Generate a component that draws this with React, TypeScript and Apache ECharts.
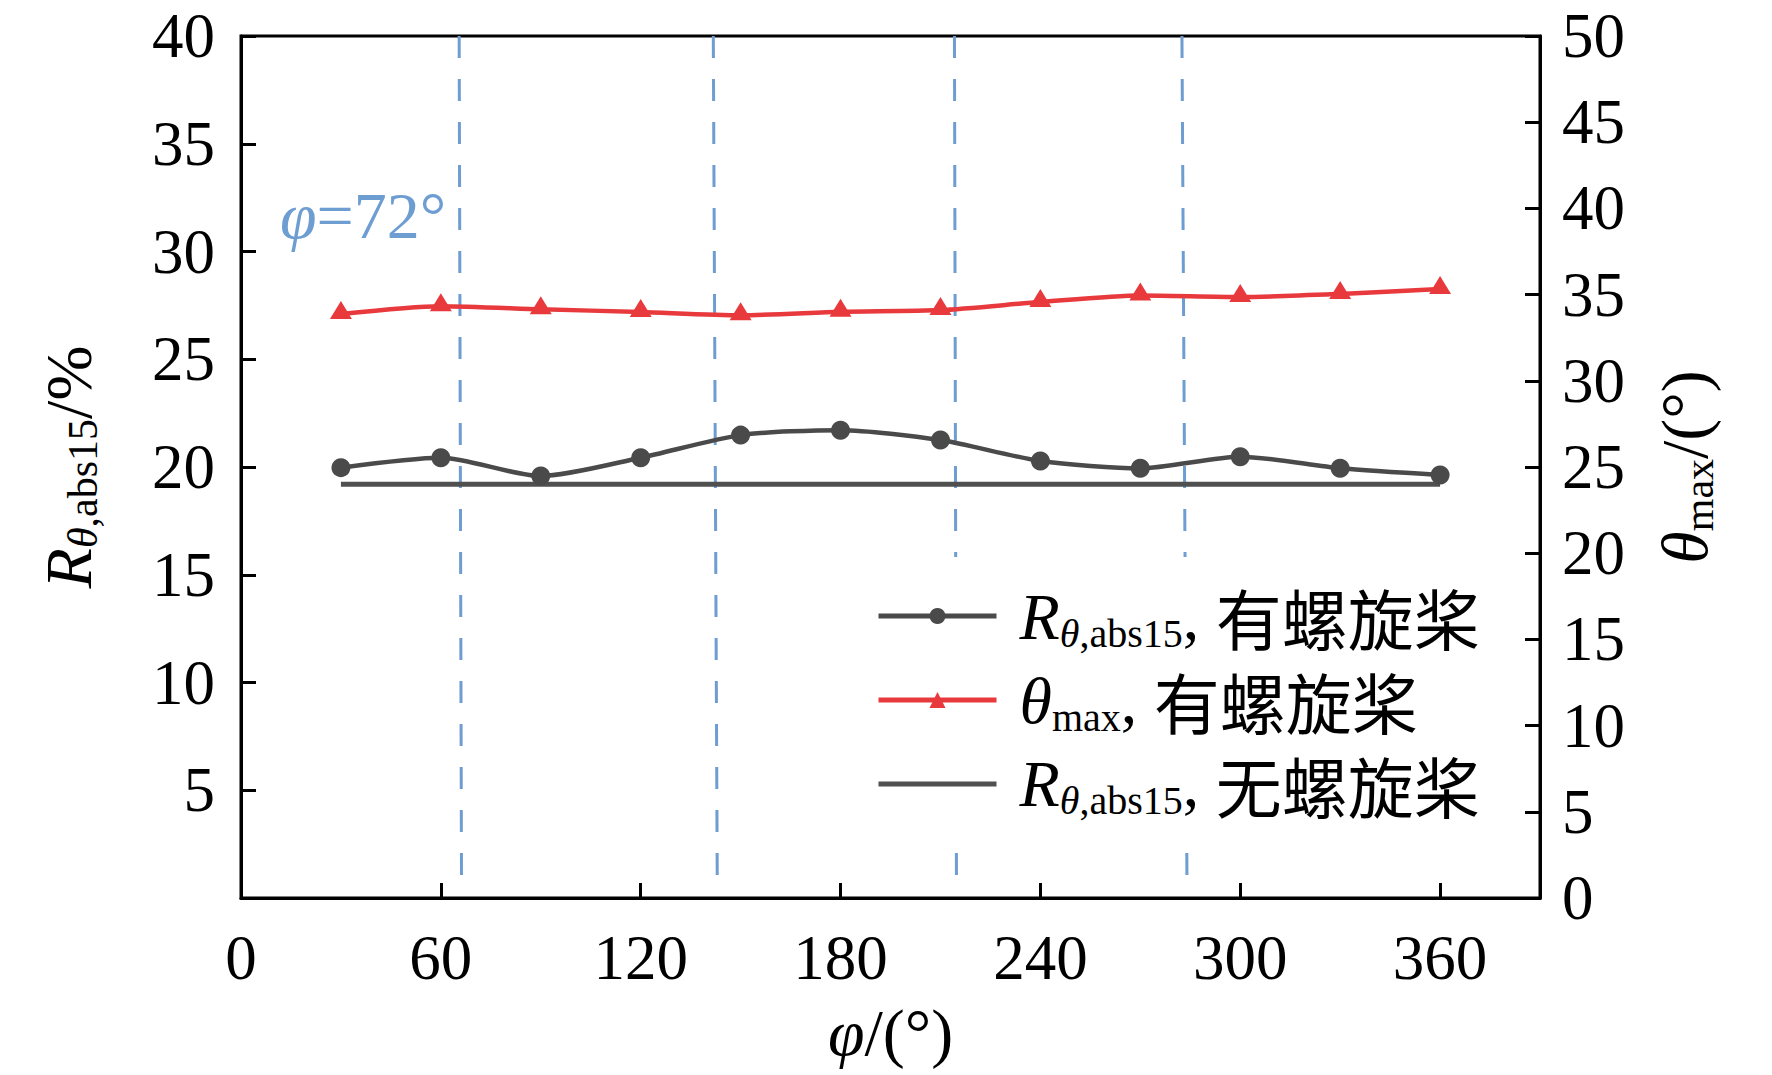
import React, { useEffect, useRef } from "react";
import * as echarts from "echarts";

// ---- data ----
const phi = [30, 60, 90, 120, 150, 180, 210, 240, 270, 300, 330, 360];
const rWithProp = [19.97, 20.43, 19.58, 20.43, 21.48, 21.71, 21.25, 20.28, 19.94, 20.48, 19.94, 19.63];
const thetaMaxWithProp = [33.87, 34.33, 34.15, 33.99, 33.8, 34.0, 34.1, 34.57, 34.95, 34.86, 35.04, 35.33];
const rNoPropX = [30, 360];
const rNoProp = [19.2, 19.2];
// blade-passage dividers: x at top, x at bottom, bottom value (left axis)
const dividerTopX = [65.5, 141.8, 214.2, 282.5];
const dividerBottomX = [66.2, 143.0, 214.8, 284.0];
const dividerBottomY = [0.8, 0.3, 0.8, 1.0];

const NAME_R1 = "Rθ,abs15, 有螺旋桨";
const NAME_T = "θmax, 有螺旋桨";
const NAME_R0 = "Rθ,abs15, 无螺旋桨";

const SERIF = "'Liberation Serif', 'Times New Roman', 'Noto Sans CJK SC', serif";
const CJK = "'Noto Sans CJK SC', 'Liberation Serif', serif";
const BLACK = "#4a4a4a";
const RED = "#e8393d";
const BLUE = "#6d9dd1";

const TICK_FONT = 63;
const NAME_FONT = 66;

function nameRich(size: number, sub: number, cjk: number, subDrop: number) {
  return {
    i: { fontFamily: SERIF, fontStyle: "italic", fontSize: size, lineHeight: size + 6, color: "#000", verticalAlign: "middle" },
    n: { fontFamily: SERIF, fontSize: size, lineHeight: size + 6, color: "#000", verticalAlign: "middle" },
    si: { fontFamily: SERIF, fontStyle: "italic", fontSize: sub, lineHeight: sub, padding: [subDrop, 0, 0, 0], color: "#000", verticalAlign: "middle" },
    s: { fontFamily: SERIF, fontSize: sub, lineHeight: sub, padding: [subDrop, 0, 0, 0], color: "#000", verticalAlign: "middle" },
    c: { fontFamily: CJK, fontSize: cjk, lineHeight: size + 6, color: "#000", verticalAlign: "middle" },
    g: { width: 18 },
  };
}

function legendFormat(name: string) {
  if (name === NAME_R1) return "{g|}{i|R}{si|θ}{s|,abs15}{n|, }{c|有螺旋桨}";
  if (name === NAME_T) return "{g|}{i|θ}{s|max}{n|, }{c|有螺旋桨}";
  return "{g|}{i|R}{si|θ}{s|,abs15}{n|, }{c|无螺旋桨}";
}

export default function App() {
  const ref = useRef<HTMLDivElement>(null);
  useEffect(() => {
    const chart = echarts.init(ref.current!, null, { renderer: "svg" });
    const markData = dividerTopX.map((x, k) => [
      { coord: [x, 40] },
      { coord: [dividerBottomX[k], dividerBottomY[k]] },
    ]);
    const option: any = {
      animation: false,
      backgroundColor: "#fff",
      grid: {
        left: 241,
        right: 232,
        top: 36,
        bottom: 177,
        show: true,
        borderColor: "#000",
        borderWidth: 3,
        backgroundColor: "transparent",
      },
      xAxis: {
        type: "value",
        min: 0,
        max: 390,
        interval: 60,
        name: "{i|φ}{n|/(°)}",
        nameLocation: "middle",
        nameGap: 98,
        nameTextStyle: { rich: nameRich(NAME_FONT, 42, NAME_FONT, 30) },
        axisLine: { show: true, lineStyle: { color: "#000", width: 3 } },
        axisTick: { show: true, inside: true, length: 15, lineStyle: { color: "#000", width: 3 } },
        axisLabel: {
          margin: 28,
          color: "#000",
          fontFamily: SERIF,
          fontSize: TICK_FONT,
          formatter: (v: number) => (v > 360 ? "" : String(v)),
        },
        splitLine: { show: false },
      },
      yAxis: [
        {
          type: "value",
          position: "left",
          min: 0,
          max: 40,
          interval: 5,
          name: "{i|R}{si|θ}{s|,abs15}{n|/%}",
          nameLocation: "middle",
          nameRotate: 90,
          nameGap: 137,
          nameTextStyle: { rich: nameRich(NAME_FONT, 42, NAME_FONT, 30) },
          axisLine: { show: true, lineStyle: { color: "#000", width: 3 } },
          axisTick: { show: true, inside: true, length: 15, lineStyle: { color: "#000", width: 3 } },
          axisLabel: { margin: 26, color: "#000", fontFamily: SERIF, fontSize: TICK_FONT, lineHeight: 50, showMinLabel: false },
          splitLine: { show: false },
        },
        {
          type: "value",
          position: "right",
          min: 0,
          max: 50,
          interval: 5,
          name: "{i|θ}{s|max}{n|/(°)}",
          nameLocation: "middle",
          nameRotate: 90,
          nameGap: 108,
          nameTextStyle: { rich: nameRich(NAME_FONT, 42, NAME_FONT, 30) },
          axisLine: { show: true, lineStyle: { color: "#000", width: 3 } },
          axisTick: { show: true, inside: true, length: 15, lineStyle: { color: "#000", width: 3 } },
          axisLabel: { margin: 22, color: "#000", fontFamily: SERIF, fontSize: TICK_FONT, lineHeight: 50 },
          splitLine: { show: false },
        },
      ],
      legend: {
        orient: "vertical",
        left: 866,
        top: 557,
        z: 20,
        padding: [22, 20, 22, 10],
        backgroundColor: "#fff",
        itemWidth: 118,
        itemHeight: 20,
        itemGap: 10,
        selectedMode: false,
        lineStyle: { width: 5 },
        data: [NAME_R1, NAME_T, { name: NAME_R0, itemStyle: { opacity: 0 } }],
        formatter: legendFormat,
        textStyle: { color: "#000", fontFamily: SERIF, fontSize: NAME_FONT, rich: nameRich(NAME_FONT, 40, 66, 34) },
      },
      graphic: [
        {
          type: "text",
          left: 280,
          top: 182,
          z: 10,
          style: {
            text: "{i|φ}{n|=72°}",
            rich: {
              i: { fontFamily: SERIF, fontStyle: "italic", fontSize: 66, fill: BLUE },
              n: { fontFamily: SERIF, fontSize: 66, fill: BLUE },
            },
          },
        },
      ],
      series: [
        {
          name: NAME_R0,
          type: "line",
          yAxisIndex: 0,
          data: rNoPropX.map((x, k) => [x, rNoProp[k]]),
          symbol: "none",
          lineStyle: { color: "#505050", width: 5 },
          itemStyle: { color: "#505050" },
          z: 3,
          markLine: {
            silent: true,
            z: 1,
            symbol: ["none", "none"],
            label: { show: false },
            lineStyle: { color: BLUE, width: 3, type: [22, 21] },
            data: markData,
          },
        },
        {
          name: NAME_R1,
          type: "line",
          yAxisIndex: 0,
          data: phi.map((x, k) => [x, rWithProp[k]]),
          smooth: 0.25,
          symbol: "circle",
          symbolSize: 19,
          lineStyle: { color: BLACK, width: 4.5 },
          itemStyle: { color: BLACK },
          z: 4,
        },
        {
          name: NAME_T,
          type: "line",
          yAxisIndex: 1,
          data: phi.map((x, k) => [x, thetaMaxWithProp[k]]),
          smooth: 0.25,
          symbol: "triangle",
          symbolSize: [22, 18],
          symbolOffset: [0, -4],
          lineStyle: { color: RED, width: 4.5 },
          itemStyle: { color: RED },
          z: 4,
        },
      ],
    };
    chart.setOption(option);
    return () => chart.dispose();
  }, []);
  return (
    <div
      ref={ref}
      style={{ position: "absolute", left: 0, top: 0, width: 1772, height: 1075 }}
    />
  );
}
